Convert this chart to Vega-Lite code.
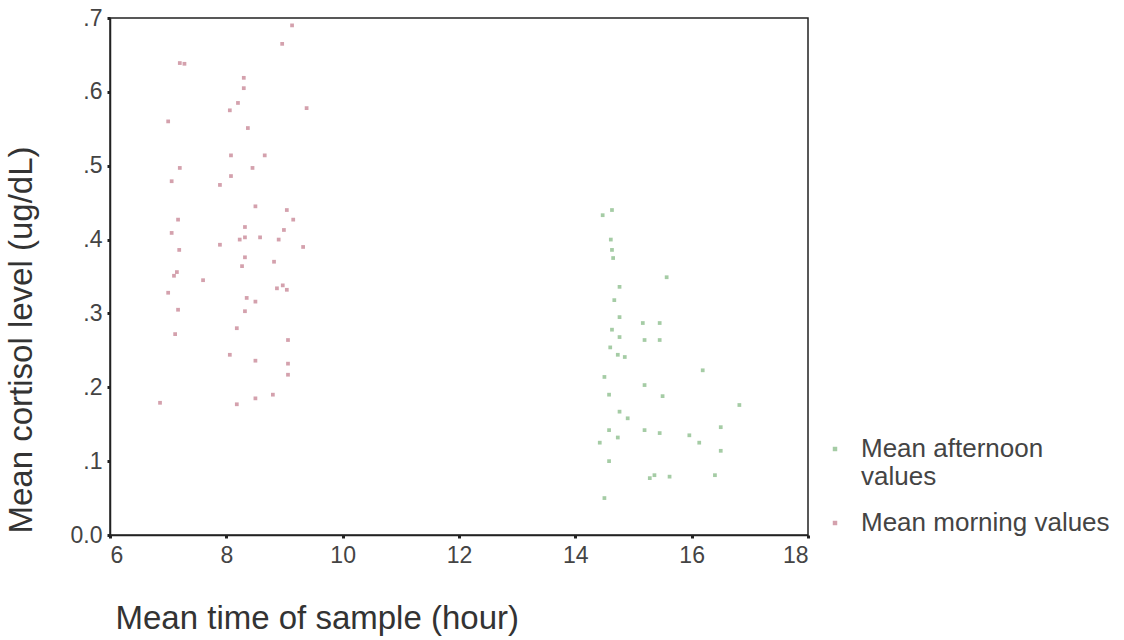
{
  "$schema": "https://vega.github.io/schema/vega-lite/v6.json",
  "autosize": {"type": "none"},
  "padding": {"left": 110, "top": 18, "right": 316, "bottom": 105},
  "width": 698,
  "height": 517,
  "background": "white",
  "config": {
    "font": "Liberation Sans",
    "view": {"stroke": "#222", "strokeWidth": 1.5},
    "axis": {"grid": false, "domainColor": "#222", "domainWidth": 1.5, "tickColor": "#222", "tickWidth": 3, "tickSize": 3, "labelColor": "#444", "titleColor": "#333", "labelFontSize": 23, "titleFontSize": 33, "titleFontWeight": "normal"}
  },
  "data": {
    "values": [
      {"time": 7.2, "cortisol": 0.639, "period": "Mean morning values"},
      {"time": 7.28, "cortisol": 0.638, "period": "Mean morning values"},
      {"time": 7.0, "cortisol": 0.56, "period": "Mean morning values"},
      {"time": 9.13, "cortisol": 0.69, "period": "Mean morning values"},
      {"time": 8.96, "cortisol": 0.665, "period": "Mean morning values"},
      {"time": 8.3, "cortisol": 0.619, "period": "Mean morning values"},
      {"time": 8.3, "cortisol": 0.605, "period": "Mean morning values"},
      {"time": 8.2, "cortisol": 0.585, "period": "Mean morning values"},
      {"time": 8.06, "cortisol": 0.575, "period": "Mean morning values"},
      {"time": 9.38, "cortisol": 0.578, "period": "Mean morning values"},
      {"time": 8.37, "cortisol": 0.551, "period": "Mean morning values"},
      {"time": 8.08, "cortisol": 0.514, "period": "Mean morning values"},
      {"time": 8.66, "cortisol": 0.514, "period": "Mean morning values"},
      {"time": 7.2, "cortisol": 0.497, "period": "Mean morning values"},
      {"time": 8.45, "cortisol": 0.497, "period": "Mean morning values"},
      {"time": 7.06, "cortisol": 0.479, "period": "Mean morning values"},
      {"time": 8.08, "cortisol": 0.486, "period": "Mean morning values"},
      {"time": 7.89, "cortisol": 0.474, "period": "Mean morning values"},
      {"time": 8.5, "cortisol": 0.445, "period": "Mean morning values"},
      {"time": 9.04, "cortisol": 0.44, "period": "Mean morning values"},
      {"time": 9.15, "cortisol": 0.427, "period": "Mean morning values"},
      {"time": 7.17, "cortisol": 0.427, "period": "Mean morning values"},
      {"time": 8.32, "cortisol": 0.417, "period": "Mean morning values"},
      {"time": 7.06, "cortisol": 0.409, "period": "Mean morning values"},
      {"time": 8.32, "cortisol": 0.403, "period": "Mean morning values"},
      {"time": 8.58, "cortisol": 0.403, "period": "Mean morning values"},
      {"time": 8.99, "cortisol": 0.413, "period": "Mean morning values"},
      {"time": 8.9, "cortisol": 0.4, "period": "Mean morning values"},
      {"time": 8.23, "cortisol": 0.4, "period": "Mean morning values"},
      {"time": 7.89, "cortisol": 0.393, "period": "Mean morning values"},
      {"time": 7.19, "cortisol": 0.386, "period": "Mean morning values"},
      {"time": 9.32, "cortisol": 0.39, "period": "Mean morning values"},
      {"time": 8.32, "cortisol": 0.376, "period": "Mean morning values"},
      {"time": 8.82, "cortisol": 0.37, "period": "Mean morning values"},
      {"time": 8.27, "cortisol": 0.364, "period": "Mean morning values"},
      {"time": 7.15, "cortisol": 0.356, "period": "Mean morning values"},
      {"time": 7.1, "cortisol": 0.351, "period": "Mean morning values"},
      {"time": 7.6, "cortisol": 0.345, "period": "Mean morning values"},
      {"time": 8.97, "cortisol": 0.338, "period": "Mean morning values"},
      {"time": 8.87, "cortisol": 0.334, "period": "Mean morning values"},
      {"time": 9.04, "cortisol": 0.332, "period": "Mean morning values"},
      {"time": 7.0, "cortisol": 0.328, "period": "Mean morning values"},
      {"time": 8.35, "cortisol": 0.321, "period": "Mean morning values"},
      {"time": 8.5, "cortisol": 0.316, "period": "Mean morning values"},
      {"time": 7.17, "cortisol": 0.305, "period": "Mean morning values"},
      {"time": 8.32, "cortisol": 0.303, "period": "Mean morning values"},
      {"time": 7.12, "cortisol": 0.272, "period": "Mean morning values"},
      {"time": 8.18, "cortisol": 0.28, "period": "Mean morning values"},
      {"time": 9.06, "cortisol": 0.264, "period": "Mean morning values"},
      {"time": 8.06, "cortisol": 0.244, "period": "Mean morning values"},
      {"time": 8.5, "cortisol": 0.236, "period": "Mean morning values"},
      {"time": 9.06, "cortisol": 0.232, "period": "Mean morning values"},
      {"time": 9.06, "cortisol": 0.217, "period": "Mean morning values"},
      {"time": 6.86, "cortisol": 0.179, "period": "Mean morning values"},
      {"time": 8.18, "cortisol": 0.177, "period": "Mean morning values"},
      {"time": 8.5, "cortisol": 0.185, "period": "Mean morning values"},
      {"time": 8.8, "cortisol": 0.19, "period": "Mean morning values"},
      {"time": 14.63, "cortisol": 0.44, "period": "Mean afternoon values"},
      {"time": 14.47, "cortisol": 0.433, "period": "Mean afternoon values"},
      {"time": 14.61, "cortisol": 0.4, "period": "Mean afternoon values"},
      {"time": 14.63, "cortisol": 0.386, "period": "Mean afternoon values"},
      {"time": 14.65, "cortisol": 0.375, "period": "Mean afternoon values"},
      {"time": 15.57, "cortisol": 0.349, "period": "Mean afternoon values"},
      {"time": 14.76, "cortisol": 0.336, "period": "Mean afternoon values"},
      {"time": 14.67, "cortisol": 0.318, "period": "Mean afternoon values"},
      {"time": 14.76, "cortisol": 0.295, "period": "Mean afternoon values"},
      {"time": 15.16, "cortisol": 0.287, "period": "Mean afternoon values"},
      {"time": 15.45, "cortisol": 0.287, "period": "Mean afternoon values"},
      {"time": 14.63, "cortisol": 0.278, "period": "Mean afternoon values"},
      {"time": 14.76, "cortisol": 0.268, "period": "Mean afternoon values"},
      {"time": 15.19, "cortisol": 0.264, "period": "Mean afternoon values"},
      {"time": 15.45, "cortisol": 0.264, "period": "Mean afternoon values"},
      {"time": 14.6, "cortisol": 0.254, "period": "Mean afternoon values"},
      {"time": 14.73, "cortisol": 0.244, "period": "Mean afternoon values"},
      {"time": 14.85, "cortisol": 0.241, "period": "Mean afternoon values"},
      {"time": 16.19, "cortisol": 0.223, "period": "Mean afternoon values"},
      {"time": 14.5, "cortisol": 0.214, "period": "Mean afternoon values"},
      {"time": 15.19, "cortisol": 0.203, "period": "Mean afternoon values"},
      {"time": 14.58, "cortisol": 0.19, "period": "Mean afternoon values"},
      {"time": 15.5, "cortisol": 0.188, "period": "Mean afternoon values"},
      {"time": 16.82, "cortisol": 0.176, "period": "Mean afternoon values"},
      {"time": 14.76, "cortisol": 0.167, "period": "Mean afternoon values"},
      {"time": 14.9, "cortisol": 0.158, "period": "Mean afternoon values"},
      {"time": 14.58, "cortisol": 0.142, "period": "Mean afternoon values"},
      {"time": 15.19, "cortisol": 0.142, "period": "Mean afternoon values"},
      {"time": 15.45, "cortisol": 0.138, "period": "Mean afternoon values"},
      {"time": 15.96, "cortisol": 0.135, "period": "Mean afternoon values"},
      {"time": 16.5, "cortisol": 0.146, "period": "Mean afternoon values"},
      {"time": 14.73, "cortisol": 0.132, "period": "Mean afternoon values"},
      {"time": 14.42, "cortisol": 0.125, "period": "Mean afternoon values"},
      {"time": 16.13, "cortisol": 0.125, "period": "Mean afternoon values"},
      {"time": 16.5, "cortisol": 0.114, "period": "Mean afternoon values"},
      {"time": 14.58, "cortisol": 0.1, "period": "Mean afternoon values"},
      {"time": 15.36, "cortisol": 0.081, "period": "Mean afternoon values"},
      {"time": 15.62, "cortisol": 0.079, "period": "Mean afternoon values"},
      {"time": 15.28, "cortisol": 0.077, "period": "Mean afternoon values"},
      {"time": 16.4, "cortisol": 0.081, "period": "Mean afternoon values"},
      {"time": 14.5, "cortisol": 0.05, "period": "Mean afternoon values"}
    ]
  },
  "mark": {"type": "point", "shape": "square", "filled": true, "size": 14, "opacity": 0.8},
  "encoding": {
    "x": {
      "field": "time", "type": "quantitative",
      "scale": {"domain": [6, 18], "nice": false, "zero": false},
      "axis": {"values": [6, 8, 10, 12, 14, 16, 18], "title": "Mean time of sample (hour)", "titleAnchor": "start", "titleX": 5, "titleY": 67, "labelPadding": 6}
    },
    "y": {
      "field": "cortisol", "type": "quantitative",
      "scale": {"domain": [0, 0.7], "nice": false},
      "axis": {"values": [0, 0.1, 0.2, 0.3, 0.4, 0.5, 0.6, 0.7], "labelExpr": "datum.value == 0 ? '0.0' : replace(format(datum.value, '.1f'), '0.', '.')", "title": "Mean cortisol level (ug/dL)", "titleAnchor": "start", "titleX": -72, "titleY": 515, "labelPadding": 5}
    },
    "color": {
      "field": "period", "type": "nominal",
      "scale": {"domain": ["Mean afternoon values", "Mean morning values"], "range": ["#8fbf8f", "#c98a98"]},
      "legend": {"title": null, "orient": "none", "legendX": 712, "legendY": 418, "labelFontSize": 26, "labelLimit": 400, "labelOffset": 13, "labelColor": "#444", "symbolType": "square", "symbolSize": 20, "rowPadding": 20, "labelExpr": "datum.label == 'Mean afternoon values' ? ['Mean afternoon', 'values'] : datum.label"}
    }
  }
}
